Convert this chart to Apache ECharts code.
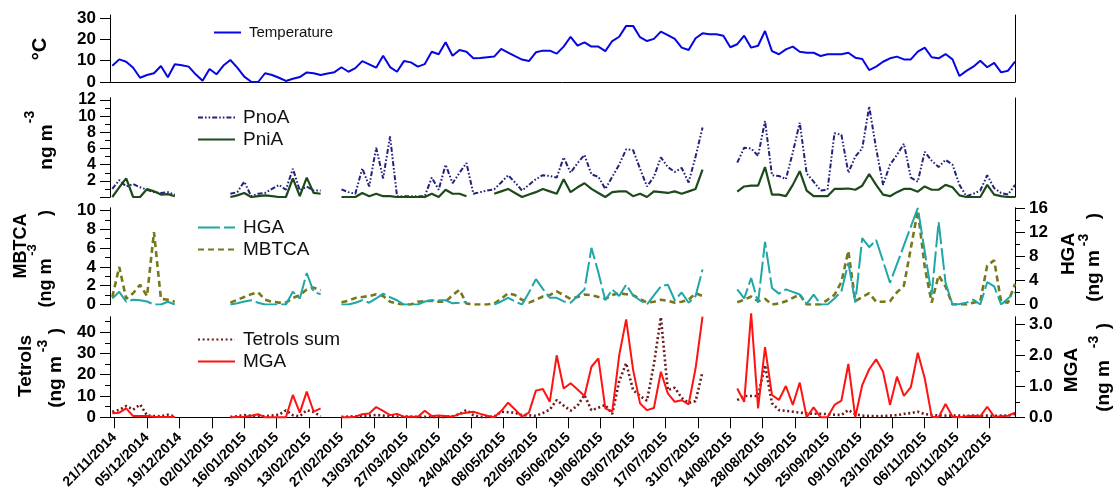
<!DOCTYPE html>
<html><head><meta charset="utf-8">
<script src="https://cdn.jsdelivr.net/npm/echarts@6/dist/echarts.min.js"></script>
<style>html,body{margin:0;padding:0;background:#fff}#c{width:1115px;height:497px}</style>
</head><body><div id="c"></div>
<script>
// Sampling dates (every third day)
const sampleDates = [
'2014-11-20','2014-11-23','2014-11-26','2014-11-29',
'2014-12-02','2014-12-05','2014-12-08','2014-12-11','2014-12-14','2014-12-17','2014-12-20','2014-12-23','2014-12-26','2014-12-29',
'2015-01-01','2015-01-04','2015-01-07','2015-01-10','2015-01-13','2015-01-16','2015-01-19','2015-01-22','2015-01-25','2015-01-28','2015-01-31',
'2015-02-03','2015-02-06','2015-02-09','2015-02-12','2015-02-15','2015-02-18','2015-02-21','2015-02-24','2015-02-27',
'2015-03-02','2015-03-05','2015-03-08','2015-03-11','2015-03-14','2015-03-17','2015-03-20','2015-03-23','2015-03-26','2015-03-29',
'2015-04-01','2015-04-04','2015-04-07','2015-04-10','2015-04-13','2015-04-16','2015-04-19','2015-04-22','2015-04-25','2015-04-28',
'2015-05-01','2015-05-04','2015-05-07','2015-05-10','2015-05-13','2015-05-16','2015-05-19','2015-05-22','2015-05-25','2015-05-28','2015-05-31',
'2015-06-03','2015-06-06','2015-06-09','2015-06-12','2015-06-15','2015-06-18','2015-06-21','2015-06-24','2015-06-27','2015-06-30',
'2015-07-03','2015-07-06','2015-07-09','2015-07-12','2015-07-15','2015-07-18','2015-07-21','2015-07-24','2015-07-27','2015-07-30',
'2015-08-02','2015-08-05','2015-08-08','2015-08-11','2015-08-14','2015-08-17','2015-08-20','2015-08-23','2015-08-26','2015-08-29',
'2015-09-01','2015-09-04','2015-09-07','2015-09-10','2015-09-13','2015-09-16','2015-09-19','2015-09-22','2015-09-25','2015-09-28',
'2015-10-01','2015-10-04','2015-10-07','2015-10-10','2015-10-13','2015-10-16','2015-10-19','2015-10-22','2015-10-25','2015-10-28','2015-10-31',
'2015-11-03','2015-11-06','2015-11-09','2015-11-12','2015-11-15','2015-11-18','2015-11-21','2015-11-24','2015-11-27','2015-11-30',
'2015-12-03','2015-12-06','2015-12-09','2015-12-12','2015-12-15'];

const tickLabels = ['21/11/2014','05/12/2014','19/12/2014','02/01/2015','16/01/2015','30/01/2015','13/02/2015','27/02/2015',
'13/03/2015','27/03/2015','10/04/2015','24/04/2015','08/05/2015','22/05/2015','05/06/2015','19/06/2015','03/07/2015',
'17/07/2015','31/07/2015','14/08/2015','28/08/2015','11/09/2015','25/09/2015','09/10/2015','23/10/2015','06/11/2015',
'20/11/2015','04/12/2015'];

const N = null;
const temperature = [
7.6,10.6,9.5,6.7,2.0,3.3,4.1,7.5,2.2,8.3,
7.8,7.2,3.6,0.6,6.1,3.6,7.7,10.3,6.7,2.5,
0.1,0.0,4.1,3.3,2.0,0.5,1.5,2.3,4.5,4.1,
3.3,4.0,4.6,6.9,4.8,6.5,9.8,8.3,6.7,12.3,
7.0,4.8,9.8,9.2,7.2,8.4,14.2,13.0,18.6,12.3,
15.0,14.2,11.1,11.3,11.6,11.9,15.5,13.8,12.1,10.5,
9.8,13.9,14.7,14.7,13.3,16.6,21.2,17.0,18.6,16.6,
16.6,14.5,19.2,21.2,26.3,26.3,21.0,19.2,20.2,23.6,
22.0,20.2,16.1,15.0,20.5,22.8,22.4,22.4,21.7,16.3,
17.7,21.7,16.1,17.0,23.9,14.5,13.0,15.3,16.6,14.2,
13.7,13.7,12.2,13.0,13.0,13.0,13.7,11.4,10.8,5.6,
7.2,9.5,11.1,11.9,10.6,10.6,14.2,16.1,11.6,11.1,
13.1,10.6,2.8,5.2,7.2,10.0,6.9,9.0,4.5,5.3,
9.5];

const pnoA = [
1.0,2.1,1.3,1.6,1.2,0.9,0.6,0.5,0.6,0.3,
N,N,N,N,N,N,N,0.4,0.6,1.9,
0.1,0.4,0.5,1.0,1.5,0.9,3.5,0.8,1.3,0.8,
0.8,N,N,0.95,0.6,0.4,3.55,1.3,6.1,2.3,
7.5,0.1,0.1,0.1,0.1,0.1,2.4,0.9,4.0,1.7,
3.0,4.2,0.4,0.6,0.8,0.95,1.8,2.7,1.8,0.8,
1.5,2.2,2.7,2.6,2.4,4.9,3.0,4.2,5.2,2.8,
2.5,1.0,2.5,4.0,5.9,5.8,3.5,1.3,2.5,4.9,
3.7,3.1,3.6,1.8,5.0,8.6,N,N,N,N,
4.25,6.1,6.0,5.1,9.4,2.7,2.6,2.2,5.5,9.2,
2.9,1.9,0.8,0.9,7.9,7.7,3.0,5.0,6.0,11.2,
6.0,1.5,4.0,5.2,6.6,2.4,1.9,5.6,4.5,3.7,
4.6,4.0,1.5,0.1,0.4,0.8,2.7,1.1,0.5,0.3,
1.5];

const pniA = [
0.0,1.2,2.3,0.0,0.0,1.0,0.7,0.3,0.35,0.1,
N,N,N,N,N,N,N,0.0,0.2,0.5,
0.0,0.1,0.2,0.1,0.0,0.0,2.3,0.1,2.4,0.5,
0.4,N,N,0.0,0.0,0.0,0.5,0.1,0.4,0.1,
0.1,0.0,0.0,0.0,0.0,0.0,0.4,0.0,0.9,0.4,
0.4,0.1,N,N,N,0.4,0.7,1.0,0.5,0.0,
0.3,0.6,1.0,0.7,0.4,2.2,0.6,1.2,1.7,1.0,
0.5,0.0,0.6,0.7,0.7,0.1,0.4,0.0,0.7,0.6,
0.5,0.7,0.4,0.7,1.0,3.4,N,N,N,N,
0.65,1.3,1.4,1.4,3.7,0.3,0.3,0.1,1.5,3.2,
0.8,0.1,0.1,0.1,1.0,1.0,1.05,0.9,1.4,2.85,
1.5,0.3,0.1,0.6,1.0,1.0,0.65,1.3,0.9,0.9,
1.5,1.2,0.2,0.0,0.0,0.0,1.5,0.3,0.1,0.0,
0.0];

const hga = [
1.0,2.1,0.45,0.8,0.7,0.5,0.0,0.0,0.45,0.0,
N,N,N,N,N,N,N,0.0,0.2,0.5,
0.7,0.3,0.0,0.0,0.0,0.0,2.1,1.0,5.2,2.1,
1.7,N,N,0.0,0.0,0.3,0.7,0.3,1.0,1.8,
1.2,0.7,0.0,0.0,0.0,0.5,0.7,0.7,0.7,0.2,
0.3,0.45,N,N,N,0.0,0.5,1.1,0.5,0.0,
2.0,4.2,2.6,1.1,1.1,0.5,0.3,1.4,2.5,9.4,
5.3,0.7,2.5,1.4,3.3,1.5,0.7,0.0,1.5,3.0,
3.3,0.7,2.0,0.3,1.4,5.8,N,N,N,N,
2.5,1.0,4.4,0.3,10.4,2.75,1.8,2.5,2.1,1.65,
0.1,1.65,0.0,0.0,1.0,2.2,6.9,0.3,11.0,9.5,
10.7,7.2,3.6,6.7,9.8,12.9,16.0,8.8,1.65,13.7,
3.6,0.0,0.1,0.3,0.8,0.0,3.7,3.0,0.0,1.0,
2.0];

const mbtca = [
0.8,4.0,0.6,1.2,2.1,0.9,7.7,0.6,0.5,0.3,
N,N,N,N,N,N,N,0.2,0.5,0.8,
1.1,1.3,0.5,0.3,0.2,0.2,0.7,1.0,1.6,1.8,
1.5,N,N,0.25,0.4,0.7,0.8,0.9,1.1,0.9,
0.3,0.1,0.0,0.0,0.3,0.35,0.4,0.3,0.3,1.0,
1.55,0.1,0.0,0.0,0.0,0.1,0.6,1.2,1.0,0.5,
0.2,0.5,0.85,1.0,1.4,1.0,0.6,0.8,1.06,1.0,
0.8,0.6,1.0,1.2,1.1,1.0,0.6,0.2,0.3,0.5,
0.4,0.2,0.3,0.5,1.2,0.9,N,N,N,N,
0.25,0.5,0.85,0.35,0.6,0.0,0.1,0.35,0.7,1.06,
0.0,0.0,0.0,0.5,1.03,2.4,5.7,0.35,0.8,1.2,
0.3,0.3,0.35,1.3,2.0,6.0,10.0,4.0,0.2,3.1,
1.9,0.0,0.0,0.0,0.2,0.35,4.15,4.7,0.3,0.2,
2.2];

const tetrols = [
2.6,3.5,5.3,3.6,6.0,0.9,0.6,0.5,1.2,0.5,
N,N,N,N,N,N,N,0.2,0.5,1.0,
0.8,0.6,0.5,0.8,1.2,3.3,1.0,0.5,3.3,2.5,
0.5,N,N,0.2,0.3,0.5,0.6,0.8,1.1,0.8,
0.5,0.4,0.3,0.3,0.2,0.2,0.2,0.2,0.2,0.5,
1.5,3.4,1.0,0.2,0.2,0.3,2.6,2.4,2.1,1.1,
0.9,0.7,2.0,3.6,8.1,5.5,3.1,5.5,10.5,3.3,
4.5,5.8,1.6,17.0,25.4,12.8,10.0,7.8,25.0,47.0,
12.8,13.9,9.1,6.7,7.6,21.4,N,N,N,N,
8.1,10.0,10.0,10.0,24.5,6.6,3.4,3.0,2.6,2.2,
1.9,1.7,1.6,1.5,1.2,1.1,3.4,1.5,0.8,0.6,
0.5,0.6,0.8,1.0,1.6,2.0,2.6,1.5,1.1,0.9,
0.8,0.8,0.8,0.7,0.8,0.8,0.8,0.7,0.8,0.8,
1.6];

const mga = [
0.13,0.15,0.29,0.04,0.04,0.04,0.02,0.01,0.01,0.01,
N,N,N,N,N,N,N,0.0,0.01,0.02,
0.05,0.1,0.0,0.0,0.0,0.0,0.72,0.15,0.83,0.18,
0.29,N,N,0.0,0.0,0.02,0.1,0.12,0.33,0.21,
0.07,0.11,0.02,0.02,0.02,0.21,0.04,0.06,0.04,0.02,
0.11,0.15,0.18,0.11,0.05,0.0,0.2,0.47,0.25,0.02,
0.15,0.86,0.91,0.5,2.0,0.93,1.1,0.9,0.69,1.63,
1.9,0.29,0.18,2.0,3.16,1.53,0.45,0.23,0.3,1.47,
0.77,0.5,0.55,0.42,1.58,3.25,N,N,N,N,
0.93,0.5,3.35,0.29,2.26,0.72,0.56,1.01,0.4,1.12,
0.0,0.32,0.0,0.0,0.4,0.54,1.72,0.0,1.04,1.55,
1.87,1.47,0.4,1.31,0.69,0.97,2.08,1.26,0.02,0.0,
0.43,0.02,0.0,0.03,0.05,0.03,0.34,0.02,0.03,0.05,
0.15];

const F = '"Liberation Sans", Arial, sans-serif';
const COL = {temp:'#0606e0', pnoa:'#22227c', pnia:'#1c4a1c', hga:'#1fa6a6', mbtca:'#77771b', tetrols:'#6a1c1c', mga:'#ff1212'};

function toTs(s){const p=s.split('-').map(Number);return new Date(p[0],p[1]-1,p[2]).getTime();}
function dmyTs(s){const p=s.split('/').map(Number);return new Date(p[2],p[1]-1,p[0]).getTime();}
const xs = sampleDates.map(toTs);
const pts = v => xs.map((x,i)=>[x, v[i]]);
const xMin = toTs('2014-11-19'), xMax = toTs('2015-12-15');
const tickVals = tickLabels.map(dmyTs);
function fmtDate(v){const i=tickVals.indexOf(v); if(i>=0) return tickLabels[i];
  const d=new Date(v);const p=n=>String(n).padStart(2,'0');return p(d.getDate())+'/'+p(d.getMonth()+1)+'/'+d.getFullYear();}

const axLine = {show:true, lineStyle:{color:'#000', width:1}};
function yMajor(gi,pos,max,ticks,labels,fmt,fs){
  return {type:'value', gridIndex:gi, position:pos, min:0, max:max, axisLine:axLine, splitLine:{show:false},
    axisTick:{show:true, customValues:ticks, length:10, lineStyle:{color:'#000', width:1}},
    axisLabel:{show:true, customValues:labels, fontSize:fs||17, lineHeight:12, hideOverlap:false, fontWeight:'bold', fontFamily:F, color:'#000', margin:14, formatter:fmt}};
}
function yMinor(gi,pos,max,ticks){
  return {type:'value', gridIndex:gi, position:pos, min:0, max:max, axisLine:axLine, splitLine:{show:false},
    axisTick:{show:true, customValues:ticks, length:5, lineStyle:{color:'#000', width:1}}, axisLabel:{show:false}};
}
function yLine(gi,pos,max){
  return {type:'value', gridIndex:gi, position:pos, min:0, max:max, axisLine:axLine, splitLine:{show:false},
    axisTick:{show:false}, axisLabel:{show:false}};
}

const yAxis = [
  yMajor(0,'left',31.4,[0,10,20,30],[0,10,20,30]),            //0
  yLine(0,'right',31.4),                                         //1
  yMajor(1,'left',12.25,[0,2,4,6,8,10,12],[2,4,6,8,10,12],undefined,16), //2
  yMinor(1,'left',12.25,[1,3,5,7,9,11]),                         //3
  yLine(1,'right',12.25),                                        //4
  yMajor(2,'left',10.27,[0,2,4,6,8,10],[0,2,4,6,8,10]),         //5
  yMinor(2,'left',10.27,[1,3,5,7,9]),                            //6
  yMajor(2,'right',16,[0,4,8,12,16],[0,4,8,12,16]),              //7
  yMinor(2,'right',16,[2,6,10,14]),                              //8
  yMajor(3,'left',47.1,[0,10,20,30,40],[0,10,20,30,40]),         //9
  yMinor(3,'left',47.1,[5,15,25,35,45]),                         //10
  yMajor(3,'right',3.235,[0,1,2,3],[0,1,2,3],v=>Number(v).toFixed(1)), //11
  yMinor(3,'right',3.235,[0.5,1.5,2.5])                          //12
];

const xAxis = [
  {type:'value', gridIndex:0, min:xMin, max:xMax, position:'top', axisLine:axLine, axisTick:{show:false}, axisLabel:{show:false}, splitLine:{show:false}},
  {type:'value', gridIndex:1, min:xMin, max:xMax, show:false},
  {type:'value', gridIndex:2, min:xMin, max:xMax, show:false},
  {type:'value', gridIndex:3, min:xMin, max:xMax, position:'bottom', axisLine:axLine, splitLine:{show:false},
   axisTick:{show:true, customValues:tickVals, length:11, lineStyle:{color:'#000', width:1}},
   axisLabel:{customValues:tickVals, rotate:45, hideOverlap:false, formatter:fmtDate, fontSize:14, fontWeight:'bold', fontFamily:F, color:'#000', margin:18}}
];

function line(name, xi, yi, vals, color, width, type, extra){
  return Object.assign({name, type:'line', xAxisIndex:xi, yAxisIndex:yi, data:pts(vals), symbol:'none', showSymbol:false,
    connectNulls:false, lineStyle:{color, width, type, cap:'butt'}, itemStyle:{color}, emphasis:{disabled:true}}, extra||{});
}
const series = [
  line('Temperature',0,0,temperature,COL.temp,2,'solid'),
  line('PnoA',1,2,pnoA,COL.pnoa,2,[5,2,1.6,2,1.6,2]),
  line('PniA',1,2,pniA,COL.pnia,2.2,'solid'),
  line('MBTCA',2,5,mbtca,COL.mbtca,2.6,[6,4]),
  line('HGA',2,7,hga,COL.hga,2,[22,4]),
  line('Tetrols sum',3,9,tetrols,COL.tetrols,2.6,[2,2.6],{clip:false}),
  line('MGA',3,11,mga,COL.mga,2,'solid',{clip:false})
];

const legTxt = sz => ({fontSize:sz, fontFamily:F, color:'#111', padding:[0,0,0,3]});
const legCommon = {selectedMode:false, padding:0, itemHeight:14, itemStyle:{opacity:0, borderWidth:0}};
const legend = [
  Object.assign({data:['Temperature'], left:213, top:25, itemWidth:27, textStyle:legTxt(15)}, legCommon),
  Object.assign({data:['PnoA','PniA'], orient:'vertical', left:197, top:108, itemWidth:37, itemGap:3, textStyle:legTxt(19)}, legCommon),
  Object.assign({data:['HGA','MBTCA'], orient:'vertical', left:197, top:218, itemWidth:37, itemGap:3, textStyle:legTxt(19)}, legCommon),
  Object.assign({data:['Tetrols sum','MGA'], orient:'vertical', left:197, top:330, itemWidth:37, itemGap:3, textStyle:legTxt(19)}, legCommon)
];

function T(text,x,y,size){
  return {type:'text', x:x, y:y, rotation:Math.PI/2, silent:true,
    style:{text:text, font:'bold '+size+'px '+F, fill:'#000', align:'center', verticalAlign:'middle', textAlign:'center', textVerticalAlign:'middle'}};
}
const graphic = [
  T('°C',40,49,20),
  T('ng m',47,147,19), T('-3',30,117,14),
  T('MBTCA',21,246,18), T('(ng m',46,283,18), T('-3',32,250,13), T(')',46,213,18),
  T('Tetrols',26,366,19), T('(ng m',56,382,19), T('-3',43,346,14), T(')',56,331,19),
  T('HGA',1069,254,19), T('(ng m',1094,276,19), T('-3',1084,240,14), T(')',1094,216,19),
  T('MGA',1072,370,19), T('(ng m',1104,386,19), T('-3',1094,342,14), T(')',1104,326,19)
];

const chart = echarts.init(document.getElementById('c'), null, {renderer:'canvas'});
chart.setOption({
  animation:false, backgroundColor:'#fff',
  grid:[
    {left:110, right:100, top:15, height:67},
    {left:110, right:100, top:98, height:99},
    {left:110, right:100, top:208, height:96.5},
    {left:110, right:100, top:317, height:100.3}
  ],
  xAxis, yAxis, series, legend, graphic
});
</script></body></html>
